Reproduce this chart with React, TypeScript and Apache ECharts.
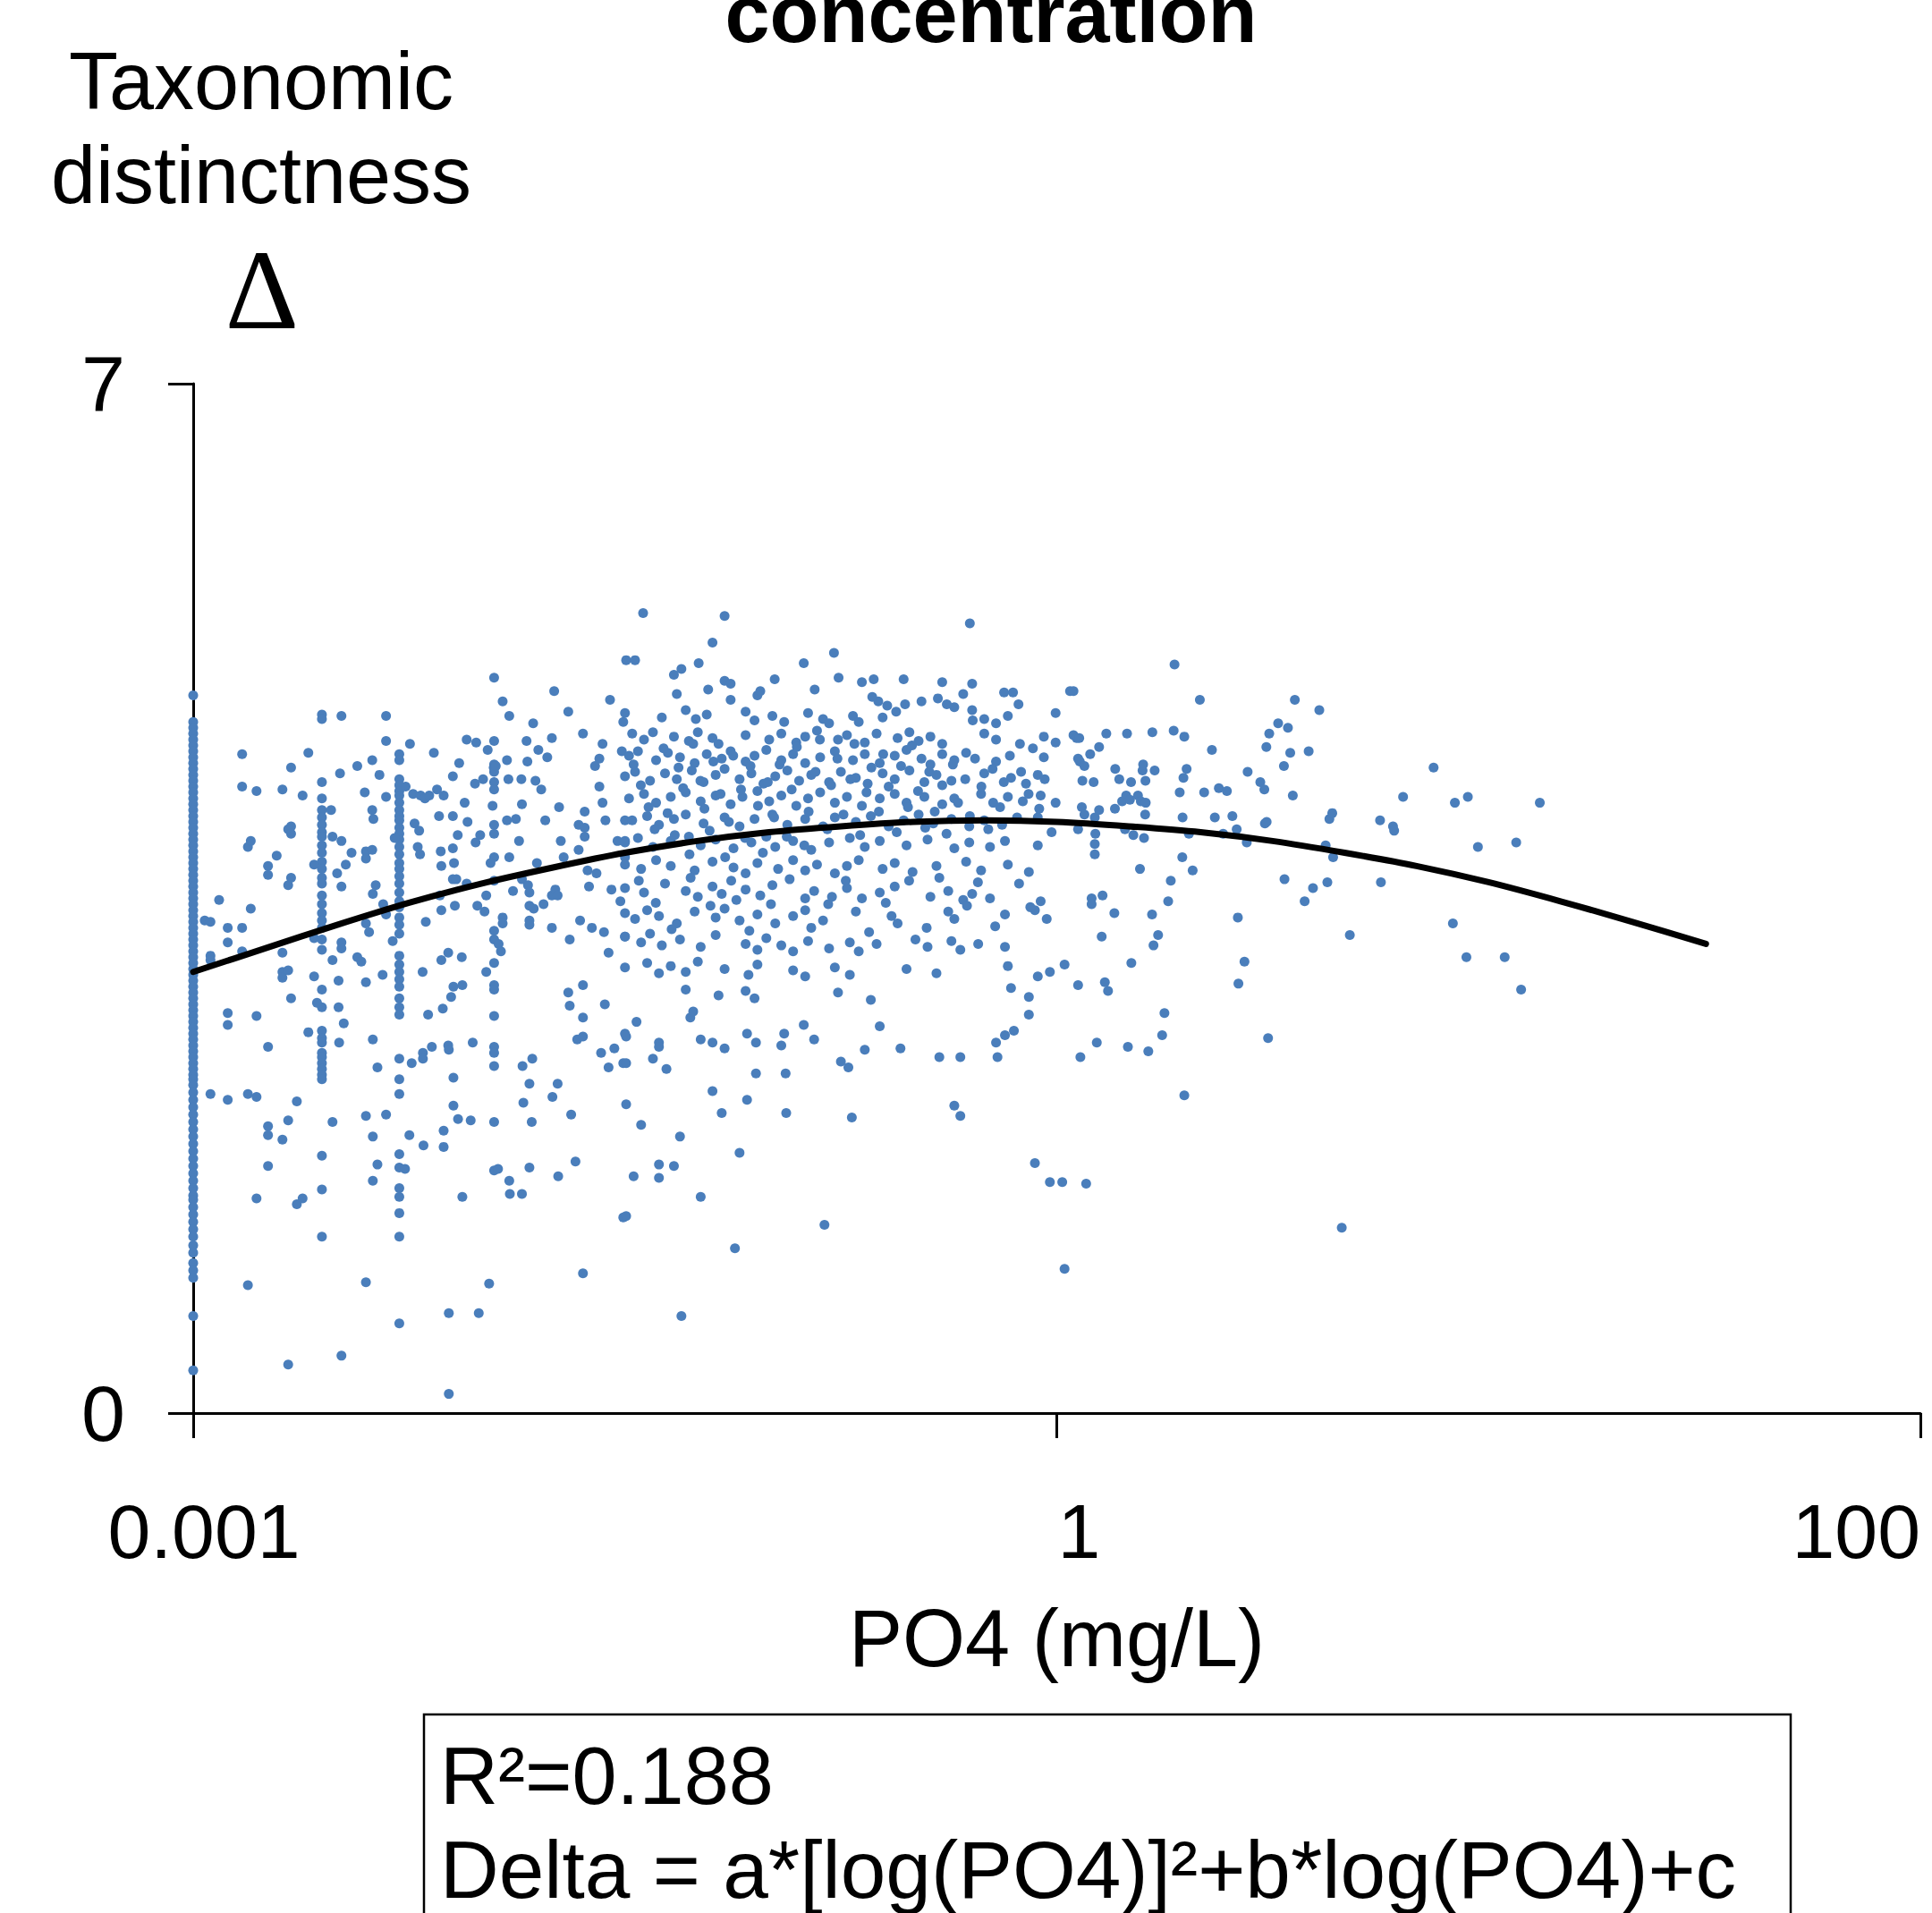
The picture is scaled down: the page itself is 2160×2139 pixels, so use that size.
import React, { useEffect, useRef } from "react";
import * as echarts from "echarts";

const FONT = '"Liberation Sans", Arial, sans-serif';

// Tick labels as printed on the figure
const xTickLabels = ["0.001", "1", "100"];
const yTickLabels = ["0", "7"];

// Texts
const titleText = "concentration";
const yTitleLines = ["Taxonomic", "distinctness"];
const yTitleSymbol = "Δ";
const xTitle = "PO4 (mg/L)";
const boxLines = ["R²=0.188", "Delta = a*[log(PO4)]²+b*log(PO4)+c"];

// Values stacked at detection-limit concentrations (PO4 in mg/L -> Delta values)
const limitPO4 = [0.001, 0.0028, 0.0052, 0.0111];
const deltaAtLimit1 = [
  4.88, 4.7, 4.66, 4.62, 4.58, 4.54, 4.5, 4.46, 4.42, 4.38, 4.34, 4.3, 4.26, 4.22, 4.18, 4.14, 4.1, 4.06, 4.02, 3.98,
  3.94, 3.9, 3.86, 3.82, 3.78, 3.74, 3.7, 3.66, 3.62, 3.58, 3.54, 3.5, 3.46, 3.42, 3.38, 3.34, 3.3, 3.26, 3.22, 3.18,
  3.14, 3.1, 3.06, 3.02, 2.98, 2.94, 2.9, 2.86, 2.82, 2.78, 2.74, 2.7, 2.66, 2.62, 2.58, 2.54, 2.5, 2.46, 2.42, 2.38,
  2.34, 2.3, 2.27, 2.23, 2.18, 2.13, 2.08, 2.03, 1.98, 1.93, 1.88, 1.83, 1.78, 1.73, 1.68, 1.63, 1.58, 1.53, 1.48,
  1.45, 1.4, 1.35, 1.3, 1.25, 1.2, 1.14, 1.09, 1.02, 0.97, 0.92, 0.66, 0.29,
];
const deltaAtLimit2 = [
  4.75, 4.72, 4.29, 4.18, 4.1, 4.05, 4.0, 3.95, 3.92, 3.86, 3.81, 3.75, 3.7, 3.64, 3.6, 3.52, 3.46, 3.4, 3.35, 3.3,
  3.22, 3.15, 2.88, 2.76, 2.6, 2.55, 2.52, 2.45, 2.42, 2.38, 2.34, 2.3, 2.27, 1.75, 1.52, 1.2,
];
const deltaAtLimit3 = [
  4.48, 4.44, 4.31, 4.27, 4.23, 4.2, 4.15, 4.1, 4.06, 4.03, 3.98, 3.94, 3.9, 3.85, 3.8, 3.74, 3.7, 3.65, 3.6, 3.54,
  3.48, 3.44, 3.37, 3.32, 3.26, 3.11, 3.05, 3.0, 2.95, 2.9, 2.82, 2.76, 2.71, 2.41, 2.27, 2.17, 1.76, 1.67, 1.53,
  1.47, 1.36, 1.2, 0.61,
];
const deltaAtLimit4 = [
  5.0, 4.57, 4.41, 4.36, 4.29, 4.24, 4.0, 3.94, 3.78, 3.62, 3.28, 3.22, 3.06, 2.91, 2.88, 2.7, 2.49, 2.45, 2.36, 1.98,
  1.65,
];

// Scattered samples as [log10(PO4), Delta]
const lowA = [
  [-2.96, 3.35], [-2.94, 3.34], [-2.91, 3.49], [-2.88, 3.3], [-2.88, 3.2], [-2.94, 3.11], [-2.94, 3.08], [-2.83, 3.3],
  [-2.83, 3.14], [-2.8, 3.43], [-2.83, 4.48], [-2.83, 4.26], [-2.78, 4.23], [-2.81, 3.85], [-2.8, 3.89], [-2.88, 2.72],
  [-2.88, 2.64], [-2.78, 2.7], [-2.94, 2.17], [-2.88, 2.13], [-2.81, 2.17], [-2.78, 2.15], [-2.78, 1.46], [-2.81, 0.87],
  [-2.74, 3.72], [-2.74, 3.66], [-2.71, 3.79], [-2.74, 2.49], [-2.74, 1.95], [-2.74, 1.89], [-2.74, 1.68], [-2.69, 4.24],
  [-2.69, 3.13], [-2.69, 3.0], [-2.69, 2.96], [-2.67, 3.01], [-2.69, 1.86], [-2.67, 1.99], [-2.67, 3.97], [-2.67, 3.59],
  [-2.66, 4.39], [-2.66, 3.99], [-2.66, 3.94], [-2.66, 3.64], [-2.66, 2.82], [-2.64, 2.12], [-2.64, 1.42], [-2.62, 1.46],
  [-2.62, 4.2], [-2.6, 4.49], [-2.6, 2.59], [-2.58, 3.23], [-2.58, 2.97], [-2.57, 2.79], [-2.58, 3.73], [-2.67, 0.33],
];
const lowB = [
  [-2.521, 4.1], [-2.516, 3.92], [-2.516, 3.08], [-2.516, 1.98], [-2.5, 3.67], [-2.495, 2.94], [-2.495, 2.76],
  [-2.493, 2.52], [-2.485, 4.74], [-2.49, 4.35], [-2.485, 3.89], [-2.485, 3.58], [-2.485, 3.2], [-2.485, 3.16],
  [-2.477, 2.65], [-2.485, 0.39], [-2.47, 3.73], [-2.45, 3.81], [-2.43, 4.4], [-2.43, 3.1], [-2.416, 3.07],
  [-2.404, 4.22], [-2.4, 3.82], [-2.4, 3.77], [-2.4, 3.33], [-2.4, 2.93], [-2.4, 2.02], [-2.4, 0.89], [-2.389, 3.27],
  [-2.378, 4.44], [-2.378, 4.1], [-2.378, 3.83], [-2.374, 4.04], [-2.376, 3.53], [-2.376, 2.54], [-2.376, 1.88],
  [-2.376, 1.58], [-2.366, 3.59], [-2.36, 2.35], [-2.36, 1.69], [-2.353, 4.34], [-2.34, 3.46], [-2.342, 2.98],
  [-2.33, 4.74], [-2.33, 4.57], [-2.33, 2.03], [-2.33, 4.19], [-2.33, 3.39], [-2.307, 3.21], [-2.3, 3.91],
];
const lowC = [
  [-2.264, 1.66], [-2.262, 4.26], [-2.247, 4.55], [-2.249, 1.89], [-2.241, 2.38], [-2.236, 4.21], [-2.231, 4.01],
  [-2.22, 3.85], [-2.215, 3.96], [-2.212, 3.8], [-2.21, 4.2], [-2.203, 3.0], [-2.2, 1.82], [-2.195, 4.18], [-2.202, 2.45],
  [-2.202, 2.41], [-2.192, 3.34], [-2.184, 2.71], [-2.18, 4.2], [-2.171, 2.49], [-2.164, 4.49], [-2.153, 4.24],
  [-2.146, 4.06], [-2.143, 3.52], [-2.14, 3.82], [-2.138, 3.72], [-2.138, 3.42], [-2.138, 3.08], [-2.133, 2.75],
  [-2.13, 4.2], [-2.13, 1.92], [-2.13, 1.81], [-2.114, 3.13], [-2.114, 2.5], [-2.112, 2.47], [-2.112, 0.68],
  [-2.112, 0.13], [-2.104, 2.83], [-2.098, 4.33], [-2.098, 4.06], [-2.098, 3.84], [-2.098, 3.63], [-2.096, 2.9],
  [-2.096, 2.28], [-2.096, 2.09], [-2.094, 3.74], [-2.091, 3.45], [-2.086, 3.63], [-2.081, 3.93], [-2.08, 2.0],
  [-2.076, 4.42], [-2.067, 3.1], [-2.065, 2.91], [-2.065, 1.47], [-2.057, 4.15], [-2.05, 4.58], [-2.05, 3.6],
  [-2.047, 4.02], [-2.036, 1.99], [-2.029, 2.52], [-2.021, 4.28], [-2.019, 3.88], [-2.017, 4.56], [-2.013, 3.45],
  [-2.008, 0.68],
];
const lowD = [
  [-2.003, 3.93], [-1.993, 4.31], [-1.988, 3.41], [-1.982, 3.52], [-1.982, 3.0], [-1.977, 4.51], [-1.972, 0.88],
  [-1.967, 3.74], [-1.96, 4.13], [-1.956, 4.39], [-1.949, 4.4], [-1.941, 1.66], [-1.939, 3.19], [-1.931, 3.14],
  [-1.925, 3.37], [-1.925, 3.33], [-1.925, 4.84], [-1.91, 4.44], [-1.91, 4.03], [-1.905, 4.31], [-1.902, 4.74],
  [-1.902, 3.78], [-1.902, 1.58], [-1.9, 1.49], [-1.889, 3.55], [-1.879, 4.04], [-1.868, 3.89], [-1.86, 4.31],
  [-1.858, 4.14], [-1.858, 3.63], [-1.858, 1.49], [-1.856, 2.36], [-1.853, 2.11], [-1.842, 4.57], [-1.839, 4.43],
  [-1.837, 3.59], [-1.832, 3.54], [-1.832, 3.45], [-1.832, 3.35], [-1.832, 3.32], [-1.832, 2.24], [-1.832, 1.67],
  [-1.824, 1.98], [-1.822, 2.41], [-1.819, 4.69], [-1.817, 3.43], [-1.811, 4.3], [-1.806, 3.74], [-1.801, 4.51],
  [-1.791, 4.24], [-1.783, 3.46], [-1.777, 4.03], [-1.77, 4.46], [-1.754, 4.59], [-1.754, 3.52], [-1.754, 3.3],
  [-1.752, 2.15], [-1.746, 4.91], [-1.742, 3.56], [-1.734, 3.52], [-1.734, 2.24], [-1.732, 1.61], [-1.729, 4.12],
  [-1.723, 3.89], [-1.713, 3.78],
];
const lowE = [
  [-1.697, 4.77], [-1.692, 3.22], [-1.697, 2.86], [-1.692, 2.77], [-1.687, 2.03], [-1.672, 1.71], [-1.666, 2.54],
  [-1.661, 4.0], [-1.661, 3.83], [-1.656, 3.35], [-1.646, 4.62], [-1.646, 2.91], [-1.646, 2.69], [-1.646, 2.56],
  [-1.646, 0.95], [-1.64, 4.09], [-1.64, 3.98], [-1.64, 3.92], [-1.63, 3.69], [-1.625, 3.58], [-1.615, 3.3],
  [-1.604, 4.4], [-1.599, 3.67], [-1.589, 4.45], [-1.589, 4.26], [-1.583, 2.45], [-1.578, 4.55], [-1.578, 4.15],
  [-1.573, 3.27], [-1.57, 2.78], [-1.568, 4.03], [-1.557, 3.13], [-1.557, 2.35], [-1.552, 4.85], [-1.547, 3.56],
  [-1.537, 2.48], [-1.526, 3.89], [-1.516, 3.48], [-1.511, 4.5], [-1.506, 1.33], [-1.506, 2.38], [-1.5, 4.03],
  [-1.5, 3.89], [-1.5, 3.78], [-1.5, 3.24], [-1.5, 2.58], [-1.506, 4.7],
];
const midTop = [
  [-1.437, 5.44], [-1.154, 5.42], [-1.196, 5.24], [-1.496, 5.12], [-1.465, 5.12], [-1.33, 5.02], [-1.304, 5.06],
  [-1.244, 5.1], [-1.211, 4.92], [-1.154, 4.98], [-1.133, 4.96], [-1.32, 4.89], [-1.133, 4.85], [-1.04, 4.88],
  [-1.03, 4.91], [-0.879, 5.1], [-0.774, 5.17], [-0.758, 5.0], [-0.841, 4.92], [-0.98, 4.99], [-0.677, 4.97],
  [-0.636, 4.99], [-0.532, 4.99], [-0.398, 4.97], [-0.302, 5.37], [-0.294, 4.96], [-0.413, 4.86], [-0.325, 4.89],
  [-0.183, 4.9], [-0.152, 4.9], [-0.133, 4.82], [0.046, 4.91], [-0.47, 4.84], [-0.527, 4.82], [-0.589, 4.81],
  [-0.62, 4.84], [-0.641, 4.87], [-0.382, 4.82], [-0.356, 4.8], [-0.294, 4.78], [-0.292, 4.71],
];
const midCore = [
  [-1.5, 4.76], [-1.372, 4.73], [-1.289, 4.78], [-1.254, 4.72], [-1.216, 4.75], [-1.081, 4.77], [-1.05, 4.71],
  [-0.988, 4.74], [-0.947, 4.7], [-0.864, 4.76], [-0.812, 4.72], [-0.791, 4.69], [-0.708, 4.74], [-0.688, 4.7],
  [-0.605, 4.73], [-0.558, 4.77], [-0.252, 4.72], [-0.211, 4.69], [-0.17, 4.74], [-0.004, 4.76],
  [-1.475, 4.62], [-1.434, 4.58], [-1.403, 4.63], [-1.33, 4.6], [-1.278, 4.57], [-1.247, 4.63], [-1.196, 4.59],
  [-1.175, 4.55], [-1.081, 4.61], [-0.999, 4.58], [-0.957, 4.62], [-0.905, 4.56], [-0.874, 4.6], [-0.833, 4.64],
  [-0.76, 4.58], [-0.729, 4.61], [-0.667, 4.56], [-0.626, 4.62], [-0.553, 4.59], [-0.512, 4.63], [-0.48, 4.57],
  [-0.439, 4.6], [-0.398, 4.55], [-0.252, 4.62], [-0.211, 4.58], [-0.128, 4.55], [-0.045, 4.6], [-0.004, 4.56],
  [0.058, 4.61],
  [-1.486, 4.47], [-1.455, 4.5], [-1.392, 4.44], [-1.351, 4.49], [-1.309, 4.46], [-1.258, 4.42], [-1.216, 4.48],
  [-1.164, 4.45], [-1.133, 4.5], [-1.081, 4.43], [-1.05, 4.47], [-1.009, 4.51], [-0.957, 4.44], [-0.916, 4.48],
  [-0.874, 4.42], [-0.822, 4.46], [-0.771, 4.5], [-0.708, 4.44], [-0.667, 4.48], [-0.615, 4.42], [-0.563, 4.47],
  [-0.522, 4.51], [-0.47, 4.45], [-0.439, 4.41], [-0.398, 4.48], [-0.356, 4.44], [-0.315, 4.49], [-0.211, 4.43],
  [-0.045, 4.46],
  [-1.5, 4.33], [-1.465, 4.36], [-1.413, 4.3], [-1.361, 4.35], [-1.32, 4.31], [-1.268, 4.37], [-1.227, 4.29],
  [-1.185, 4.34], [-1.154, 4.38], [-1.102, 4.31], [-1.061, 4.35], [-1.019, 4.28], [-0.978, 4.33], [-0.936, 4.37],
  [-0.895, 4.3], [-0.853, 4.34], [-0.791, 4.29], [-0.75, 4.36], [-0.698, 4.32], [-0.657, 4.28], [-0.605, 4.35],
  [-0.563, 4.31], [-0.512, 4.37], [-0.46, 4.29], [-0.418, 4.34], [-0.366, 4.3], [-0.252, 4.35], [-0.159, 4.32],
  [-0.107, 4.28], [-0.066, 4.34],
  [-1.486, 4.18], [-1.434, 4.21], [-1.392, 4.15], [-1.341, 4.19], [-1.289, 4.22], [-1.237, 4.16], [-1.185, 4.2],
  [-1.133, 4.14], [-1.092, 4.19], [-1.04, 4.23], [-0.999, 4.16], [-0.957, 4.2], [-0.905, 4.13], [-0.864, 4.18],
  [-0.822, 4.22], [-0.771, 4.15], [-0.729, 4.19], [-0.677, 4.13], [-0.615, 4.18], [-0.563, 4.21], [-0.522, 4.15],
  [-0.46, 4.19], [-0.398, 4.14], [-0.356, 4.18], [-0.263, 4.21], [-0.221, 4.15], [-0.17, 4.19], [-0.118, 4.16],
  [-0.056, 4.2], [-0.004, 4.15],
  [-1.475, 4.03], [-1.423, 4.06], [-1.382, 4.0], [-1.33, 4.04], [-1.289, 4.07], [-1.227, 4.01], [-1.154, 4.05],
  [-1.102, 3.99], [-1.05, 4.04], [-0.988, 4.07], [-0.936, 4.0], [-0.874, 4.04], [-0.812, 3.99], [-0.771, 4.05],
  [-0.698, 4.02], [-0.646, 4.06], [-0.584, 3.99], [-0.532, 4.03], [-0.48, 4.07], [-0.429, 4.01], [-0.366, 4.04],
  [-0.304, 3.99], [-0.252, 4.03], [-0.19, 4.0], [-0.066, 4.05],
  [-1.5, 3.88], [-1.455, 3.91], [-1.403, 3.85], [-1.341, 3.89], [-1.278, 3.92], [-1.237, 3.86], [-1.185, 3.9],
  [-1.123, 3.84], [-1.061, 3.88], [-1.009, 3.92], [-0.978, 3.85], [-0.916, 3.89], [-0.853, 3.83], [-0.791, 3.88],
  [-0.719, 3.91], [-0.667, 3.85], [-0.615, 3.89], [-0.522, 3.86], [-0.449, 3.9], [-0.356, 3.84], [-0.304, 3.88],
  [-0.232, 3.85], [-0.18, 3.89], [-0.066, 3.86],
  [-1.5, 3.73], [-1.444, 3.7], [-1.392, 3.76], [-1.341, 3.72], [-1.258, 3.69], [-1.196, 3.75], [-1.123, 3.71],
  [-1.081, 3.67], [-1.04, 3.74], [-0.968, 3.7], [-0.916, 3.76], [-0.874, 3.69], [-0.833, 3.73], [-0.771, 3.67],
  [-0.729, 3.72], [-0.688, 3.76], [-0.605, 3.7], [-0.563, 3.74], [-0.501, 3.68], [-0.418, 3.72], [-0.315, 3.75],
  [-0.263, 3.69], [-0.17, 3.73], [-0.097, 3.68],
  [-1.5, 3.57], [-1.434, 3.54], [-1.361, 3.6], [-1.289, 3.55], [-1.247, 3.51], [-1.196, 3.58], [-1.164, 3.53],
  [-1.113, 3.49], [-1.081, 3.56], [-1.03, 3.52], [-0.988, 3.59], [-0.874, 3.5], [-0.843, 3.55], [-0.781, 3.51],
  [-0.729, 3.57], [-0.677, 3.5], [-0.615, 3.54], [-0.563, 3.58], [-0.439, 3.51], [-0.377, 3.55], [-0.325, 3.49],
  [-0.294, 3.53], [-0.232, 3.5], [-0.056, 3.48],
  [-1.5, 3.4], [-1.465, 3.36], [-1.423, 3.42], [-1.382, 3.38], [-1.32, 3.33], [-1.258, 3.41], [-1.185, 3.37],
  [-1.154, 3.43], [-1.102, 3.35], [-1.04, 3.39], [-0.978, 3.33], [-0.916, 3.38], [-0.874, 3.42], [-0.812, 3.35],
  [-0.698, 3.41], [-0.574, 3.38], [-0.553, 3.33], [-0.377, 3.41], [-0.356, 3.36], [-0.18, 3.39], [-0.076, 3.42],
  [-0.035, 3.36],
  [-1.5, 3.24], [-1.444, 3.2], [-1.413, 3.26], [-1.372, 3.18], [-1.309, 3.22], [-1.237, 3.17], [-1.185, 3.25],
  [-1.081, 3.19], [-1.04, 3.15], [-1.009, 3.23], [-0.957, 3.18], [-0.916, 3.14], [-0.864, 3.21], [-0.791, 3.16],
  [-0.719, 3.2], [-0.688, 3.14], [-0.626, 3.19], [-0.491, 3.22], [-0.449, 3.17], [-0.366, 3.21], [-0.335, 3.15],
  [-0.273, 3.19], [-0.18, 3.17],
  [-1.5, 3.03], [-1.423, 3.06], [-1.382, 2.99], [-1.341, 3.04], [-1.289, 3.0], [-1.247, 3.07], [-1.154, 3.02],
  [-1.071, 2.98], [-1.04, 3.05], [-0.916, 3.01], [-0.874, 2.97], [-0.771, 3.03], [-0.719, 2.98], [-0.522, 3.02],
  [-0.418, 2.99], [-0.17, 3.04], [-0.066, 2.97], [-0.024, 3.0], [0.027, 3.05],
  [-1.289, 2.88], [-1.175, 2.84], [-1.081, 2.87], [-1.05, 2.82], [-0.76, 2.86], [-0.646, 2.81], [-0.159, 2.89],
  [-0.097, 2.83],
];
// Extra overlapping samples in the densest part of the cloud
const midDense = [
  [-1.47, 4.41], [-1.445, 4.27], [-1.418, 4.12], [-1.397, 3.97], [-1.366, 4.52], [-1.352, 4.08], [-1.327, 3.93],
  [-1.314, 4.39], [-1.298, 4.25], [-1.276, 3.8], [-1.263, 4.55], [-1.238, 4.3], [-1.224, 4.11], [-1.206, 3.96],
  [-1.193, 4.43], [-1.168, 4.21], [-1.152, 3.78], [-1.139, 4.02], [-1.124, 4.47], [-1.097, 4.24], [-1.083, 3.91],
  [-1.064, 4.4], [-1.038, 4.13], [-1.021, 3.81], [-1.004, 4.29], [-0.982, 4.05], [-0.963, 4.41], [-0.938, 3.92],
  [-0.921, 4.24], [-0.903, 4.53], [-0.877, 3.86], [-0.862, 4.09], [-0.838, 4.36], [-0.823, 4.58], [-0.797, 3.97],
  [-0.784, 4.27], [-0.762, 4.45], [-0.741, 4.07], [-0.717, 4.31], [-0.703, 4.55], [-0.683, 3.93], [-0.661, 4.22],
  [-0.644, 4.39], [-0.618, 4.09], [-0.603, 4.48], [-0.584, 4.26], [-0.556, 3.95], [-0.541, 4.4], [-0.517, 4.12],
  [-0.503, 4.54], [-0.482, 4.23], [-0.457, 3.98], [-0.443, 4.36], [-0.424, 4.09], [-0.398, 4.27], [-0.383, 3.94],
  [-0.361, 4.41], [-0.343, 4.15], [-0.318, 4.31], [-0.302, 4.06], [-0.284, 4.45], [-0.262, 4.26], [-0.238, 3.97],
  [-0.223, 4.38], [-0.197, 4.12], [-0.184, 4.29], [-0.163, 4.47], [-0.138, 4.05], [-0.124, 4.36], [-0.098, 4.21],
  [-0.083, 4.52], [-0.061, 4.11], [-0.042, 4.31], [-0.018, 3.95],
  [-1.452, 3.62], [-1.393, 3.47], [-1.338, 3.29], [-1.272, 3.64], [-1.203, 3.45], [-1.131, 3.62], [-1.068, 3.28],
  [-0.993, 3.46], [-0.928, 3.63], [-0.853, 3.3], [-0.794, 3.46], [-0.733, 3.62], [-0.652, 3.27], [-0.594, 3.47],
  [-0.513, 3.62], [-0.452, 3.3], [-0.408, 3.64], [-0.312, 3.45], [-0.274, 3.61], [-0.214, 3.31], [-0.131, 3.6],
  [-0.092, 3.44],
];
const midLow = [
  [-1.46, 2.66], [-1.496, 2.56], [-1.496, 2.38], [-1.382, 2.52], [-1.382, 2.49], [-1.403, 2.41], [-1.356, 2.34],
  [-1.237, 2.54], [-1.196, 2.52], [-1.154, 2.48], [-1.273, 2.69], [-1.263, 2.73], [-1.076, 2.58], [-1.045, 2.52],
  [-0.947, 2.58], [-0.957, 2.5], [-0.879, 2.64], [-0.843, 2.54], [-0.75, 2.39], [-0.724, 2.35], [-0.667, 2.47],
  [-0.615, 2.63], [-0.543, 2.48], [-0.408, 2.42], [-0.335, 2.42], [-0.211, 2.52], [-0.206, 2.42], [-0.18, 2.57],
  [-0.149, 2.6], [-0.097, 2.71], [-1.496, 2.1], [-1.444, 1.96], [-1.309, 1.88], [-1.196, 2.19], [-1.164, 2.04],
  [-1.076, 2.13], [-1.045, 2.31], [-0.942, 2.31], [-0.94, 2.04], [-0.712, 2.01], [-0.356, 2.09], [-0.335, 2.02],
  [-1.496, 1.34], [-1.47, 1.61], [-1.382, 1.69], [-1.382, 1.6], [-1.33, 1.68], [-1.237, 1.47], [-1.102, 1.77],
  [-1.118, 1.12], [-1.304, 0.66], [-0.807, 1.28], [-0.076, 1.7], [-0.024, 1.57], [0.019, 1.57], [0.027, 0.98],
];
const high = [
  [0.058, 4.91], [0.069, 4.59], [0.078, 4.59], [0.074, 4.45], [0.08, 4.43], [0.096, 4.4], [0.089, 4.3], [0.087, 4.12],
  [0.096, 4.07], [0.074, 3.97], [0.116, 4.48], [0.128, 4.29], [0.132, 4.05], [0.134, 3.94], [0.132, 3.87], [0.132, 3.8],
  [0.121, 3.5], [0.121, 3.46], [0.159, 3.52], [0.147, 4.53], [0.147, 4.1], [0.172, 4.62], [0.2, 3.4], [0.203, 4.38],
  [0.217, 4.31], [0.202, 4.11], [0.156, 3.24], [0.167, 2.93], [0.178, 2.87], [0.074, 2.91], [0.082, 2.42],
  [0.139, 2.52], [0.102, 1.56], [0.227, 4.16], [0.241, 4.2], [0.254, 4.17], [0.237, 3.97], [0.244, 4.62],
  [0.258, 4.29], [0.266, 3.93], [0.259, 3.06], [0.247, 2.49], [0.282, 4.2], [0.292, 4.16], [0.309, 4.15], [0.289, 3.7],
  [0.298, 4.37], [0.3, 4.41], [0.308, 4.3], [0.307, 4.07], [0.303, 3.91], [0.332, 4.63], [0.34, 4.37], [0.331, 3.39],
  [0.336, 3.18], [0.352, 3.25], [0.318, 2.46], [0.366, 2.57], [0.374, 2.72], [0.387, 3.48], [0.396, 3.62],
  [0.406, 4.64], [0.427, 4.22], [0.437, 4.05], [0.436, 3.78], [0.44, 4.32], [0.451, 4.38], [0.443, 4.6], [0.459, 3.94],
  [0.409, 5.09], [0.472, 3.69], [0.443, 2.16], [0.497, 4.85], [0.512, 4.22], [0.539, 4.51], [0.549, 4.05],
  [0.563, 4.25], [0.591, 4.23], [0.578, 3.94], [0.61, 4.06], [0.625, 3.97], [0.629, 3.37], [0.652, 3.07], [0.631, 2.92],
  [0.66, 3.88], [0.663, 4.36], [0.707, 4.29], [0.721, 4.24], [0.723, 4.01], [0.729, 4.02], [0.728, 4.53],
  [0.738, 4.62], [0.734, 2.55], [0.769, 4.69], [0.803, 4.66], [0.789, 4.4], [0.811, 4.49], [0.82, 4.2], [0.827, 4.85],
  [0.791, 3.63], [0.861, 3.48], [0.875, 4.5], [0.89, 3.57], [0.912, 4.78], [0.934, 3.86], [0.94, 3.61], [0.947, 4.04],
  [0.957, 4.08], [0.96, 3.78], [1.018, 3.25], [0.99, 1.26], [1.123, 4.03], [1.126, 3.61], [1.168, 3.99], [1.172, 3.96],
  [1.203, 4.19], [1.309, 4.39], [1.376, 3.33], [1.383, 4.15], [1.423, 3.1], [1.428, 4.19], [1.463, 3.85],
  [1.556, 3.1], [1.596, 3.88], [1.613, 2.88], [1.678, 4.15],
];

// Quadratic trend line, [log10(PO4), Delta]
const trend = [
  [-3, 3.0], [-2.75, 3.16], [-2.5, 3.32], [-2.25, 3.47], [-2.0, 3.6], [-1.75, 3.71], [-1.5, 3.81], [-1.25, 3.89],
  [-1.0, 3.95], [-0.75, 3.99], [-0.5, 4.02], [-0.25, 4.03], [0, 4.02], [0.25, 3.99], [0.5, 3.95], [0.75, 3.89],
  [1.0, 3.81], [1.25, 3.72], [1.5, 3.61], [1.75, 3.48], [2.0, 3.34], [2.255, 3.19],
];

function buildPoints(): number[][] {
  const pts: number[][] = [];
  const limitCols = [deltaAtLimit1, deltaAtLimit2, deltaAtLimit3, deltaAtLimit4];
  limitCols.forEach((col, i) => col.forEach((d) => pts.push([limitPO4[i], d])));
  [lowA, lowB, lowC, lowD, lowE, midTop, midCore, midDense, midLow, high].forEach((arr) =>
    arr.forEach(([l, d]) => pts.push([Math.pow(10, l), d]))
  );
  return pts;
}

export default function App() {
  const ref = useRef<HTMLDivElement>(null);

  useEffect(() => {
    if (!ref.current) return;
    const chart = echarts.init(ref.current, null, { renderer: "svg", width: 2160, height: 2139 });
    const xLabelBase = { fontSize: 86, fontFamily: FONT, color: "#000", lineHeight: 86 };
    const textStyle = (text: string, size: number, align: string, extra: any = {}) => ({
      text,
      fontSize: size,
      fontFamily: FONT,
      fill: "#000",
      align,
      verticalAlign: "middle",
      textAlign: align,
      textVerticalAlign: "middle",
      ...extra,
    });
    const option: any = {
      animation: false,
      backgroundColor: "#fff",
      grid: { left: 216, top: 429, width: 1931, height: 1151, containLabel: false },
      xAxis: {
        type: "log",
        logBase: 1000,
        min: 0.001,
        max: 1000,
        name: xTitle,
        nameLocation: "middle",
        nameGap: 207,
        nameTextStyle: { fontSize: 90, fontFamily: FONT, color: "#000", lineHeight: 90 },
        axisLine: { show: true, lineStyle: { color: "#000", width: 3 } },
        axisTick: { show: true, length: 28, lineStyle: { color: "#000", width: 3 } },
        minorTick: { show: false },
        splitLine: { show: false },
        axisLabel: {
          margin: 89,
          alignMaxLabel: "right",
          formatter: (v: number) =>
            v < 0.01 ? `{a|${xTickLabels[0]}}` : v < 10 ? `{b|${xTickLabels[1]}}` : `{c|${xTickLabels[2]}}`,
          rich: {
            a: { ...xLabelBase, padding: [0, 0, 0, 24] },
            b: { ...xLabelBase, padding: [0, 0, 0, 50] },
            c: { ...xLabelBase },
          },
          ...xLabelBase,
        },
      },
      yAxis: {
        type: "value",
        min: 0,
        max: 7,
        interval: 7,
        axisLine: { show: true, lineStyle: { color: "#000", width: 3 } },
        axisTick: { show: true, length: 28, lineStyle: { color: "#000", width: 3 } },
        splitLine: { show: false },
        axisLabel: {
          margin: 76,
          fontSize: 88,
          fontFamily: FONT,
          color: "#000",
          formatter: (v: number) => (v === 0 ? yTickLabels[0] : yTickLabels[1]),
        },
      },
      series: [
        {
          type: "scatter",
          data: buildPoints(),
          symbol: "circle",
          symbolSize: 11,
          clip: false,
          itemStyle: { color: "#4A7EBB", opacity: 1 },
          emphasis: { disabled: true },
          z: 2,
        },
        {
          type: "line",
          data: trend.map(([l, d]) => [Math.pow(10, l), d]),
          smooth: 0.3,
          symbol: "none",
          clip: false,
          lineStyle: { color: "#000", width: 7, cap: "round", join: "round" },
          emphasis: { disabled: true },
          z: 3,
        },
      ],
      graphic: [
        { type: "text", x: 1108, y: 16, style: textStyle(titleText, 90, "center", { fontWeight: "bold" }) },
        { type: "text", x: 292, y: 91, style: textStyle(yTitleLines[0], 90, "center") },
        { type: "text", x: 292, y: 196, style: textStyle(yTitleLines[1], 90, "center") },
        {
          type: "text",
          x: 293,
          y: 324,
          style: textStyle(yTitleSymbol, 128, "center", {
            fontFamily: '"Liberation Serif", "Times New Roman", serif',
          }),
        },
        {
          type: "rect",
          z: 10,
          shape: { x: 474, y: 1917, width: 1528, height: 400 },
          style: { fill: "#fff", stroke: "#000", lineWidth: 2.5 },
        },
        { type: "text", x: 492, y: 1986, z: 11, style: textStyle(boxLines[0], 90, "left") },
        { type: "text", x: 492, y: 2090, z: 11, style: textStyle(boxLines[1], 91, "left") },
      ],
    };
    chart.setOption(option);
    return () => chart.dispose();
  }, []);

  return (
    <div
      ref={ref}
      style={{ position: "absolute", left: 0, top: 0, width: 2160, height: 2139, background: "#fff" }}
    />
  );
}
